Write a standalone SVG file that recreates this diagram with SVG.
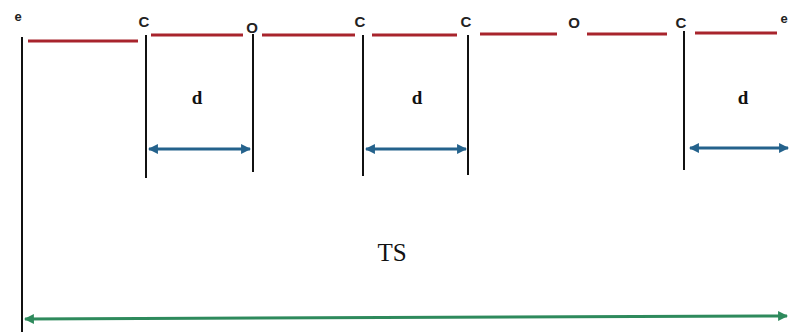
<svg xmlns="http://www.w3.org/2000/svg" width="789" height="336" viewBox="0 0 789 336">
<style>
.lbl{font-family:"Liberation Sans",Arial,sans-serif;font-weight:bold;font-size:15px;fill:#222;text-anchor:middle}
.e{font-size:13px}
.d{font-family:"Liberation Serif","Times New Roman",serif;font-weight:bold;font-size:19px;fill:#111;text-anchor:middle}
.ts{font-family:"Liberation Serif","Times New Roman",serif;font-size:25px;fill:#111;text-anchor:middle}
.red{stroke:#a8242c;stroke-width:3;fill:none}
.tick{stroke:#111;stroke-width:2;fill:none}
.blue{stroke:#24628c;stroke-width:3;fill:none}
.green{stroke:#2e8a5c;stroke-width:3;fill:none}
</style>
<defs>
<marker id="bh" viewBox="0 0 10 10" refX="9" refY="5" markerWidth="3.3" markerHeight="3.3" orient="auto-start-reverse" markerUnits="strokeWidth">
<path d="M0,0 L10,5 L0,10 z" fill="#24628c"/>
</marker>
<marker id="gh" viewBox="0 0 10 10" refX="9" refY="5" markerWidth="3.3" markerHeight="3.3" orient="auto-start-reverse" markerUnits="strokeWidth">
<path d="M0,0 L10,5 L0,10 z" fill="#2e8a5c"/>
</marker>
</defs>
<rect width="789" height="336" fill="#fff"/>
<g id="connectors">
<line class="red" x1="28" y1="41" x2="138" y2="41"/>
<line class="red" x1="151" y1="35" x2="243" y2="35"/>
<line class="red" x1="262" y1="35" x2="355" y2="35"/>
<line class="red" x1="372" y1="35" x2="457" y2="35"/>
<line class="red" x1="480" y1="34" x2="557" y2="34"/>
<line class="red" x1="587" y1="34" x2="667" y2="34"/>
<line class="red" x1="695" y1="33" x2="777" y2="33"/>
<line class="tick" x1="22" y1="37" x2="22" y2="332"/>
<line class="tick" x1="146" y1="35" x2="146" y2="178"/>
<line class="tick" x1="253" y1="34" x2="253" y2="172"/>
<line class="tick" x1="363" y1="35" x2="363" y2="176"/>
<line class="tick" x1="468" y1="35" x2="468" y2="175"/>
<line class="tick" x1="684" y1="31" x2="684" y2="170"/>
<line class="blue" x1="149" y1="149" x2="250" y2="149" marker-start="url(#bh)" marker-end="url(#bh)"/>
<line class="blue" x1="366" y1="149" x2="466" y2="149" marker-start="url(#bh)" marker-end="url(#bh)"/>
<line class="blue" x1="690" y1="148" x2="788" y2="148" marker-start="url(#bh)" marker-end="url(#bh)"/>
<line class="green" x1="25" y1="319" x2="787" y2="316" marker-start="url(#gh)" marker-end="url(#gh)"/>
</g>
<g id="label-e1"><text class="lbl e" x="18" y="21">e</text></g>
<g id="label-c1"><text class="lbl" x="144" y="27">C</text></g>
<g id="label-o1"><text class="lbl" x="252" y="33">O</text></g>
<g id="label-c2"><text class="lbl" x="360" y="27">C</text></g>
<g id="label-c3"><text class="lbl" x="466" y="27">C</text></g>
<g id="label-o2"><text class="lbl" x="574" y="28">O</text></g>
<g id="label-c4"><text class="lbl" x="681" y="28">C</text></g>
<g id="label-e2"><text class="lbl e" x="784" y="23">e</text></g>
<g id="label-d1"><text class="d" x="197" y="104">d</text></g>
<g id="label-d2"><text class="d" x="417" y="104">d</text></g>
<g id="label-d3"><text class="d" x="743" y="104">d</text></g>
<g id="label-ts"><text class="ts" x="392" y="261">TS</text></g>
</svg>
